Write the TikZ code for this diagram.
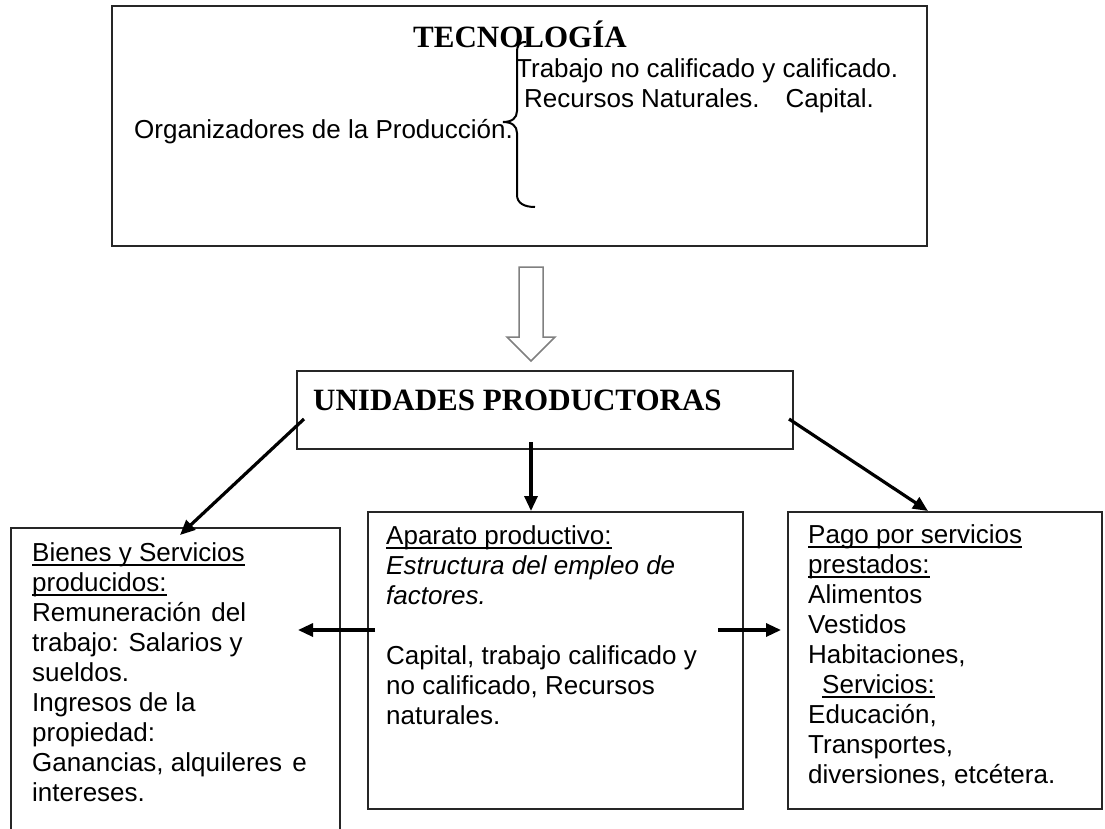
\documentclass[tikz,border=0pt]{standalone}
\usepackage{fontspec}
\setmainfont{Liberation Serif}
\setsansfont{Liberation Sans}
\usetikzlibrary{arrows.meta}
\newcommand{\subrayar}[1]{\setbox0=\hbox{#1}\rlap{\rule[-4.5pt]{\wd0}{1.4pt}}\box0}

\begin{document}
\begin{tikzpicture}[x=1pt,y=-1pt,
    caja/.style={draw=black!85,line width=1.6pt},
    titulo/.style={font=\rmfamily\bfseries\fontsize{31}{36}\selectfont,anchor=base west,inner sep=0pt},
    linea/.style={font=\sffamily\fontsize{26}{30}\selectfont,anchor=base west,inner sep=0pt},
    cuerpo/.style={font=\sffamily\fontsize{26}{30}\selectfont,align=left,anchor=north west,inner sep=0pt,execute at begin node=\strut},
    flecha/.style={-{Triangle[length=15pt,width=13pt]},line width=3.2pt}]
  \useasboundingbox (0,0) rectangle (1105,828);

  % cajas
  \node[caja,minimum width=815pt,minimum height=240pt] (tec) at (519.5,126) {};
  \node[caja,minimum width=496pt,minimum height=78pt] (unid) at (545,410) {};
  \node[caja,minimum width=329pt,minimum height=330pt] (bienes) at (175.5,693) {};
  \node[caja,minimum width=375pt,minimum height=297pt] (aparato) at (555.5,660.5) {};
  \node[caja,minimum width=314pt,minimum height=297pt] (pago) at (945,660.5) {};

  % tecnologia
  \node[titulo] (tectxt) at (413,47) {TECNOLOGÍA};
  \node[linea] (trabajo) at (516,77) {Trabajo no calificado y calificado.};
  \node[linea] (recursos) at (524,107) {Recursos Naturales.\hspace{26pt}Capital.};
  \node[linea] (organiz) at (134,138) {Organizadores de la Producción.};
  \draw[line width=2pt] (526,42) .. controls (519,42) and (517,45) .. (517,53) -- (517,111)
    .. controls (517,118) and (512,122) .. (503,122) .. controls (512,122) and (517,126) .. (517,133)
    -- (517,195) .. controls (517,203) and (524,207) .. (535,207);

  % flecha hueca
  \draw[draw=black!50,line width=1.5pt,fill=white] (519,267) -- (543,267) -- (543,337) -- (555,337)
    -- (531,361) -- (507,337) -- (519,337) -- cycle;

  \node[titulo] (unidtxt) at (313,410) {UNIDADES PRODUCTORAS};

  % textos de abajo
  \node[cuerpo] (bienestxt) at (32,542) {\subrayar{Bienes y Servicios}\\
    \subrayar{producidos:}\\
    Remuneración\hspace{3pt} del\\
    trabajo: Salarios y\\
    sueldos.\\
    Ingresos de la\\
    propiedad:\\
    Ganancias, alquileres\hspace{3pt} e\\
    intereses.};
  \node[cuerpo] (aparatotxt) at (386,525) {\subrayar{Aparato productivo:}\\
    \textit{Estructura del empleo de}\\
    \textit{factores.}\\[30pt]
    Capital, trabajo calificado y\\
    no calificado, Recursos\\
    naturales.};
  \node[cuerpo] (pagotxt) at (808,524) {\subrayar{Pago por servicios}\\
    \subrayar{prestados:}\\
    Alimentos\\
    Vestidos\\
    Habitaciones,\\
    \hspace*{14pt}\subrayar{Servicios:}\\
    Educación,\\
    Transportes,\\
    diversiones, etcétera.};

  % flechas
  \coordinate (u1) at (304,419); \coordinate (b1) at (180,535);
  \coordinate (u2) at (531,442); \coordinate (a1) at (531,511);
  \coordinate (u3) at (789,419); \coordinate (p1) at (928,511);
  \coordinate (a2) at (375,630); \coordinate (b2) at (298,630);
  \coordinate (a3) at (718,630); \coordinate (p2) at (781,630);
  \draw[flecha] (u1) -- (b1);
  \draw[flecha] (u2) -- (a1);
  \draw[flecha] (u3) -- (p1);
  \draw[flecha] (a2) -- (b2);
  \draw[flecha] (a3) -- (p2);
\end{tikzpicture}
\end{document}
